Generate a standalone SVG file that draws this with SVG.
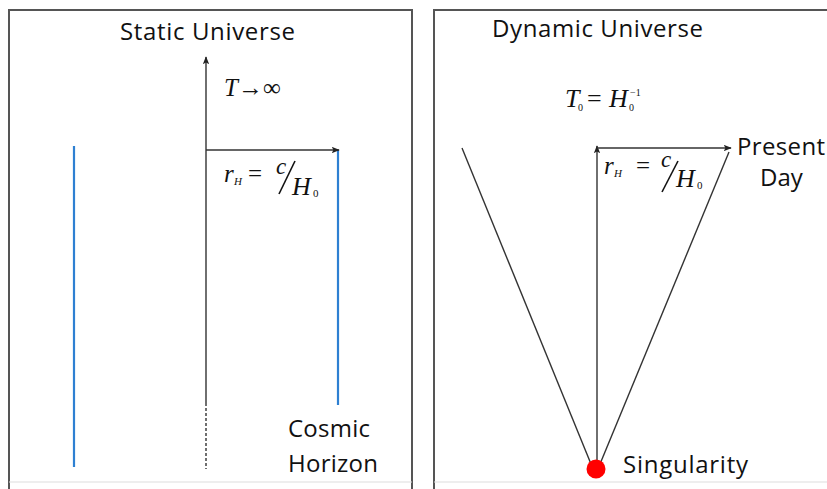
<svg xmlns="http://www.w3.org/2000/svg" width="827" height="489" viewBox="0 0 827 489">
<style>
.lbl{font-family:"Open Sans","Liberation Sans",sans-serif;font-size:24px;fill:#111}
.m{font-family:"Liberation Serif","Times New Roman",serif;font-style:italic;fill:#111}
.mu{font-family:"Liberation Serif","Times New Roman",serif;fill:#111}
.ax{stroke:#333;stroke-width:1.4;fill:none}
.blue{stroke:#2E80D2;stroke-width:2.2;fill:none}
.frame{stroke:#555;stroke-width:2;fill:none}
</style>
<defs>
<marker id="ah" viewBox="0 0 10 8" refX="9" refY="4" markerWidth="8" markerHeight="6.4" markerUnits="userSpaceOnUse" orient="auto">
<path d="M0,0 L10,4 L0,8 L2,4 Z" fill="#222"/>
</marker>
</defs>
<rect width="827" height="489" fill="#fff"/>

<g id="frames">
<path class="frame" d="M9,489 V10 H412 V489"/>
<line x1="9" y1="482" x2="412" y2="482" stroke="#ddd" stroke-width="1"/>
<path class="frame" d="M434,489 V10 H827"/>
<line x1="434" y1="482" x2="827" y2="482" stroke="#ddd" stroke-width="1"/>
</g>

<g id="static-panel">
<text class="lbl" x="120" y="40" textLength="175">Static Universe</text>
<g id="static-lines">
<line class="blue" x1="74" y1="146" x2="74" y2="467"/>
<line class="blue" x1="338" y1="150" x2="338" y2="405"/>
</g>
<g id="static-connectors">
<line class="ax" x1="206" y1="403" x2="206" y2="57" marker-end="url(#ah)"/>
<line class="ax" x1="206" y1="403" x2="206" y2="469" stroke-dasharray="3,2"/>
<line class="ax" x1="206" y1="150" x2="339" y2="150" marker-end="url(#ah)"/>
</g>
<g id="static-T">
<text class="m" x="224" y="96" font-size="25">T</text>
<text class="mu" x="238" y="96" font-size="25">→∞</text>
</g>
<g id="static-rH">
<text class="m" x="224" y="182" font-size="25">r</text>
<text class="m" x="234" y="185" font-size="11">H</text>
<text class="mu" x="248" y="182" font-size="25">=</text>
<text class="m" x="276" y="174" font-size="23">c</text>
<line x1="279" y1="194" x2="295" y2="161" stroke="#111" stroke-width="1.6"/>
<text class="m" x="292" y="195" font-size="26">H</text>
<text class="mu" x="313" y="197" font-size="11">0</text>
</g>
<text class="lbl" x="288" y="437" textLength="82">Cosmic</text>
<text class="lbl" x="288" y="472" textLength="90">Horizon</text>
</g>

<g id="dynamic-panel">
<text class="lbl" x="492" y="37" textLength="211">Dynamic Universe</text>
<g id="dynamic-connectors">
<line class="ax" x1="462" y1="148" x2="591" y2="464"/>
<line class="ax" x1="729" y1="152" x2="600" y2="464"/>
<line class="ax" x1="597" y1="465" x2="597" y2="146" marker-end="url(#ah)"/>
<line class="ax" x1="597" y1="148" x2="731" y2="148" marker-end="url(#ah)"/>
</g>
<g id="dynamic-T">
<text class="m" x="565" y="107" font-size="26">T</text>
<text class="mu" x="578" y="111" font-size="10">0</text>
<text class="mu" x="587" y="107" font-size="26">=</text>
<text class="m" x="609" y="107" font-size="26">H</text>
<text class="mu" x="629" y="111" font-size="10">0</text>
<text class="mu" x="630" y="96" font-size="10">−1</text>
</g>
<g id="dynamic-rH">
<text class="m" x="604" y="174" font-size="25">r</text>
<text class="m" x="614" y="177" font-size="11">H</text>
<text class="mu" x="636" y="174" font-size="25">=</text>
<text class="m" x="661" y="167" font-size="23">c</text>
<line x1="662" y1="192" x2="678" y2="161" stroke="#111" stroke-width="1.6"/>
<text class="m" x="676" y="187" font-size="26">H</text>
<text class="mu" x="697" y="189" font-size="11">0</text>
</g>
<text class="lbl" x="737" y="155" textLength="88">Present</text>
<text class="lbl" x="760" y="186">Day</text>
<g id="singularity">
<circle cx="596" cy="469" r="9.5" fill="#F00"/>
<text class="lbl" x="623" y="473" textLength="125">Singularity</text>
</g>
</g>
</svg>
